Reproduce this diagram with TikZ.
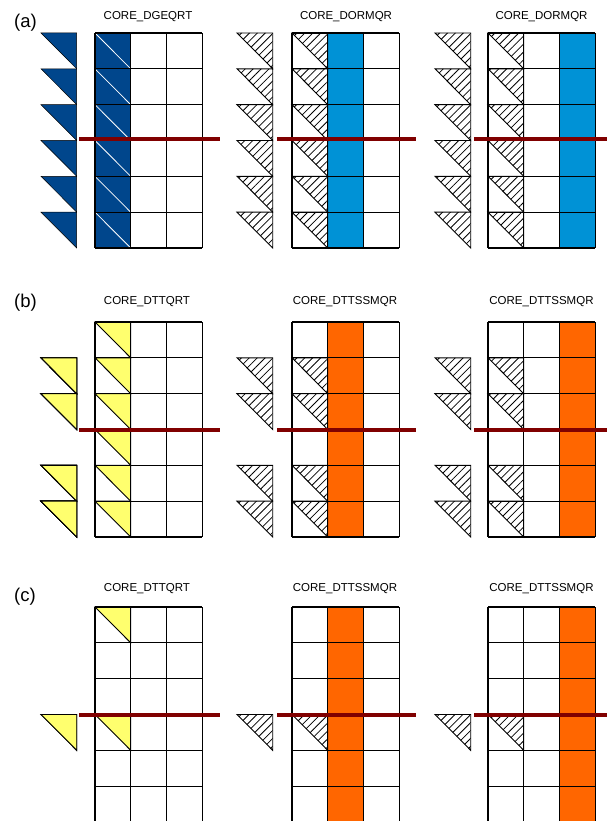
\documentclass[tikz,border=0pt]{standalone}
\usepackage{fontspec}
\setmainfont{Liberation Sans}
\usetikzlibrary{patterns.meta}
\definecolor{dblue}{RGB}{0,70,140}
\definecolor{lblue}{RGB}{0,146,214}
\definecolor{orng}{RGB}{255,102,0}
\definecolor{ylw}{RGB}{255,255,110}
\definecolor{dred}{RGB}{128,0,0}
\tikzset{
  gridline/.style={draw=black, line width=1.1pt},
  hatchtri/.style={pattern={Lines[angle=45,distance=5.6pt,line width=0.8pt]}, draw=black, line width=0.9pt},
  bluetri/.style={fill=dblue, draw=black, line width=0.5pt},
  ylwtri/.style={fill=ylw, draw=black, line width=0.9pt},
  titletext/.style={font=\fontsize{11.5}{12}\selectfont, inner sep=0pt},
  paneltext/.style={font=\fontsize{18.5}{20}\selectfont, inner sep=0pt},
  cutline/.style={draw=dred, line width=4pt},
}
\newcommand\rh{35.83}
\newcommand\cw{35.7}
\newcommand\mygrid[2]{%
  \foreach \i in {0,...,3} \draw[gridline] ({#1+\i*\cw},{#2}) -- ++(0,{6*\rh});
  \foreach \j in {0,...,6} \draw[gridline] ({#1},{#2+\j*\rh}) -- ++({3*\cw},0);
}
\newcommand\mytri[3]{\path[#3] ({#1},{#2}) -- ++(\cw,0) -- ++(0,\rh) -- cycle;}
\begin{document}
\begin{tikzpicture}[x=1pt,y=-1pt]
\useasboundingbox[fill=white] (0,0) rectangle (607,821);

% ---------- (a) ----------
\node[paneltext] (la) at (25.5,23) {(a)};
\node[titletext] (ta1) at (148,17) {CORE\_DGEQRT};
\node[titletext] (ta2) at (346,17) {CORE\_DORMQR};
\node[titletext] (ta3) at (541.5,17) {CORE\_DORMQR};
% panel 1
\fill[dblue] (95,33) rectangle ++(\cw,{6*\rh});
\foreach \r in {0,...,5} {
  \draw[white, line width=0.8pt] (95,{33+\r*\rh}) -- ++(\cw,\rh);
  \mytri{41}{33+\r*\rh}{bluetri}
}
\mygrid{95}{33}
% panel 2
\fill[lblue] ({292+\cw},33) rectangle ++(\cw,{6*\rh});
\foreach \r in {0,...,5} {
  \mytri{292}{33+\r*\rh}{hatchtri}
  \mytri{237}{33+\r*\rh}{hatchtri}
}
\mygrid{292}{33}
% panel 3
\fill[lblue] ({488+2*\cw},33) rectangle ++(\cw,{6*\rh});
\foreach \r in {0,...,5} {
  \mytri{488}{33+\r*\rh}{hatchtri}
  \mytri{435}{33+\r*\rh}{hatchtri}
}
\mygrid{488}{33}
\draw[cutline] (79,139.5) -- (220,139.5);
\draw[cutline] (277,139.5) -- (416,139.5);
\draw[cutline] (474,139.5) -- (607,139.5);

% ---------- (b) ----------
\node[paneltext] (lb) at (25.5,303) {(b)};
\node[titletext] (tb1) at (147,302) {CORE\_DTTQRT};
\node[titletext] (tb2) at (345,302) {CORE\_DTTSSMQR};
\node[titletext] (tb3) at (541.5,302) {CORE\_DTTSSMQR};
% panel 1
\foreach \r in {0,...,5} \mytri{95}{322+\r*\rh}{ylwtri}
\foreach \r in {1,2,4,5} \mytri{41}{322+\r*\rh}{ylwtri}
\mygrid{95}{322}
% panel 2
\fill[orng] ({292+\cw},322) rectangle ++(\cw,{6*\rh});
\foreach \r in {1,2,4,5} {
  \mytri{292}{322+\r*\rh}{hatchtri}
  \mytri{237}{322+\r*\rh}{hatchtri}
}
\mygrid{292}{322}
% panel 3
\fill[orng] ({488+2*\cw},322) rectangle ++(\cw,{6*\rh});
\foreach \r in {1,2,4,5} {
  \mytri{488}{322+\r*\rh}{hatchtri}
  \mytri{435}{322+\r*\rh}{hatchtri}
}
\mygrid{488}{322}
\draw[cutline] (79,430) -- (220,430);
\draw[cutline] (277,430) -- (416,430);
\draw[cutline] (474,430) -- (607,430);

% ---------- (c) ----------
\node[paneltext] (lc) at (25,597) {(c)};
\node[titletext] (tc1) at (147,588.5) {CORE\_DTTQRT};
\node[titletext] (tc2) at (345,588.5) {CORE\_DTTSSMQR};
\node[titletext] (tc3) at (541.5,588.5) {CORE\_DTTSSMQR};
% panel 1
\foreach \r in {0,3} \mytri{95}{607+\r*\rh}{ylwtri}
\mytri{41}{607+3*\rh}{ylwtri}
\mygrid{95}{607}
% panel 2
\fill[orng] ({292+\cw},607) rectangle ++(\cw,{6*\rh});
\mytri{292}{607+3*\rh}{hatchtri}
\mytri{237}{607+3*\rh}{hatchtri}
\mygrid{292}{607}
% panel 3
\fill[orng] ({488+2*\cw},607) rectangle ++(\cw,{6*\rh});
\mytri{488}{607+3*\rh}{hatchtri}
\mytri{435}{607+3*\rh}{hatchtri}
\mygrid{488}{607}
\draw[cutline] (79,714.5) -- (220,714.5);
\draw[cutline] (277,714.5) -- (416,714.5);
\draw[cutline] (474,714.5) -- (607,714.5);
\end{tikzpicture}
\end{document}
